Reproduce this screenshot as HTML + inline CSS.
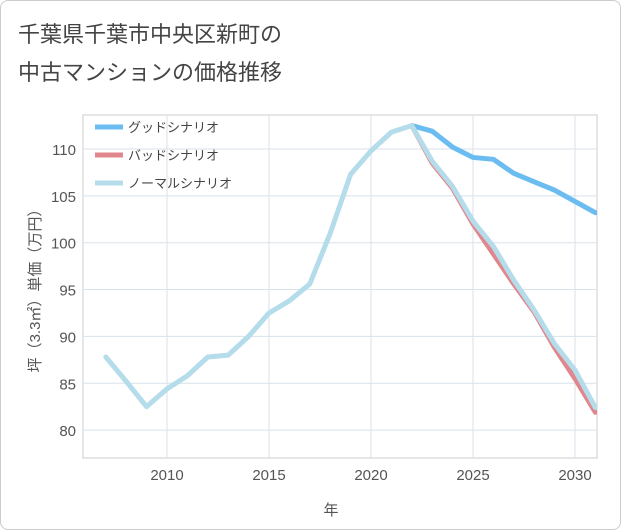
<!DOCTYPE html>
<html><head><meta charset="utf-8"><style>
body{margin:0;background:#fff;}
.card{position:absolute;left:0;top:0;width:619px;height:528px;border:1px solid #ccc;border-radius:8px;background:#fff;}
text{font-family:"Liberation Sans","Noto Sans CJK JP",sans-serif;}
</style></head><body>
<div class="card">
<svg id="chart" width="621" height="530" style="position:absolute;left:-1px;top:-1px">
<defs><clipPath id="clipr"><rect x="83" y="115" width="514" height="343"/></clipPath></defs>
<text x="18" y="42" font-size="22" fill="#444">千葉県千葉市中央区新町の</text>
<text x="18" y="80" font-size="22" fill="#444">中古マンションの価格推移</text>
<g id="grid"></g><g id="axes"></g><g id="series" clip-path="url(#clipr)"></g><g id="legend"></g>
<text x="331" y="515" font-size="15" fill="#555" text-anchor="middle">年</text>
<text transform="translate(40,287) rotate(-90)" font-size="15" fill="#555" text-anchor="middle">坪（3.3㎡）単価（万円）</text>
</svg></div>
<script>
const years=[2007,2008,2009,2010,2011,2012,2013,2014,2015,2016,2017,2018,2019,2020,2021,2022,2023,2024,2025,2026,2027,2028,2029,2030,2031];
const normalVals=[87.8,85.2,82.5,84.4,85.8,87.8,88.0,90.0,92.5,93.8,95.6,101,107.3,109.8,111.8,112.5,108.7,106.0,102.3,99.6,96.0,92.8,89.2,86.4,82.4];
const futureYears=[2022,2023,2024,2025,2026,2027,2028,2029,2030,2031];
const goodVals=[112.5,111.9,110.2,109.1,108.9,107.4,106.5,105.6,104.4,103.2];
const badVals=[112.5,108.5,105.8,102.0,98.8,95.6,92.6,88.8,85.5,81.9];
const xTicks=[2010,2015,2020,2025,2030];
const yTicks=[80,85,90,95,100,105,110];
const NS="http://www.w3.org/2000/svg";
const X0=83,X1=597,Y0=115,Y1=458;
const xs=y=>167+(y-2010)*20.4;
const ys=v=>149+(110-v)*9.37;
function mk(tag,attrs,parent){const e=document.createElementNS(NS,tag);for(const k in attrs)e.setAttribute(k,attrs[k]);document.getElementById(parent).appendChild(e);return e;}
const grid='grid';
mk('rect',{x:X0,y:Y0,width:X1-X0,height:Y1-Y0,fill:'none',stroke:'#ccc'},grid);
for(const t of xTicks){const l=mk('line',{x1:xs(t),x2:xs(t),y1:Y0,y2:Y1,stroke:'#d8e2ea'},grid);


const tx=mk('text',{x:xs(t),y:480,'font-size':15,fill:'#555','text-anchor':'middle'},'axes');tx.textContent=t;

}
for(const t of yTicks){const l=mk('line',{x1:X0,x2:X1,y1:ys(t),y2:ys(t),stroke:'#d8e2ea'},grid);


const tx=mk('text',{x:76,y:ys(t)+6,'font-size':15,fill:'#555','text-anchor':'end'},'axes');tx.textContent=t;

}
function line(xv,vals,color,name){const p=mk('polyline',{points:xv.map((y,i)=>xs(y)+','+ys(vals[i])).join(' '),fill:'none',stroke:color,'stroke-width':5,'stroke-linejoin':'round','stroke-linecap':'round'},'series');

}
line(futureYears,goodVals,'#6bbcf0','good-scenario-line');
line(futureYears,badVals,'#e0868c','bad-scenario-line');
line(years,normalVals,'#b5dcea','normal-scenario-line');
const leg=[['グッドシナリオ','#6bbcf0'],['バッドシナリオ','#e0868c'],['ノーマルシナリオ','#b5dcea']];
leg.forEach((d,i)=>{const y=127+i*28;const l=mk('line',{x1:95,x2:123,y1:y,y2:y,stroke:d[1],'stroke-width':5},'legend');


const t=mk('text',{x:128,y:y+5,'font-size':13,fill:'#444'},'legend');t.textContent=d[0];

});
</script>
</body></html>
